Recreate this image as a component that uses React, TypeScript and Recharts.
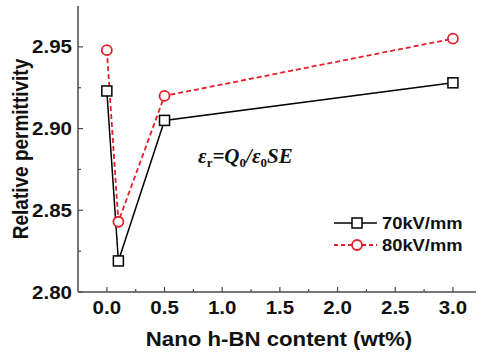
import React from 'react';
import { LineChart, Line, XAxis, YAxis, Legend } from 'recharts';

// nano h-BN content (wt%)
const contents = [0, 0.1, 0.5, 3.0];
// relative permittivity at 70 kV/mm and 80 kV/mm
const perm70 = [2.923, 2.819, 2.905, 2.928];
const perm80 = [2.948, 2.843, 2.920, 2.955];

const xTicks = [0, 0.25, 0.5, 0.75, 1.0, 1.25, 1.5, 1.75, 2.0, 2.25, 2.5, 2.75, 3.0];
const yTicks = [2.8, 2.825, 2.85, 2.875, 2.9, 2.925, 2.95];

const seriesNames = ['70kV/mm', '80kV/mm'];

const RED = '#e3202a';
const AXIS = '#4a4a4a';
const FONT = '"Liberation Sans", Arial, sans-serif';
// the original picture is a bit stretched sideways
const SX = 1.14;

const data = contents.map((x, i) => ({ x, a: perm70[i], b: perm80[i] }));

const isMajor = (v: number, step: number) => Math.abs(v / step - Math.round(v / step)) < 1e-6;

const XTick = (props: any) => {
    const { x, y, payload } = props;
    const major = isMajor(payload.value, 0.5);
    return (
        <g>
            <line x1={x} x2={x} y1={y} y2={y - (major ? 5 : 3)} stroke={AXIS} strokeWidth={1.2} />
            {major && (
                <text transform={`translate(${x},${y + 22}) scale(${SX},1)`} textAnchor="middle" fontFamily={FONT} fontWeight="bold" fontSize={18} fill="#111">
                    {payload.value.toFixed(1)}
                </text>
            )}
        </g>
    );
};

const YTick = (props: any) => {
    const { x, y, payload } = props;
    const major = isMajor(payload.value, 0.05);
    return (
        <g>
            <line x1={x} x2={x + (major ? 5 : 3)} y1={y} y2={y} stroke={AXIS} strokeWidth={1.2} />
            {major && (
                <text transform={`translate(${x - 6},${y + 6.5}) scale(${SX},1)`} textAnchor="end" fontFamily={FONT} fontWeight="bold" fontSize={18} fill="#111">
                    {payload.value.toFixed(2)}
                </text>
            )}
        </g>
    );
};

const SquareDot = (props: any) => {
    const { cx, cy, index } = props;
    return <rect key={'s' + index} x={cx - 5} y={cy - 5} width={10} height={10} fill="#fff" stroke="#000" strokeWidth={1.5} />;
};

const CircleDot = (props: any) => {
    const { cx, cy, index } = props;
    return <circle key={'c' + index} cx={cx} cy={cy} r={5} fill="#fff" stroke={RED} strokeWidth={1.8} />;
};

const LegendBox = () => (
    <svg width={140} height={48}>
        <line x1={4} x2={47} y1={13} y2={13} stroke="#000" strokeWidth={1.5} />
        <rect x={22} y={8} width={10} height={10} fill="#fff" stroke="#000" strokeWidth={1.5} />
        <text transform={`translate(52,19) scale(1.08,1)`} fontFamily={FONT} fontWeight="bold" fontSize={17} fill="#111">{seriesNames[0]}</text>
        <line x1={4} x2={47} y1={35} y2={35} stroke={RED} strokeWidth={1.8} strokeDasharray="4 3" />
        <circle cx={27} cy={35} r={5} fill="#fff" stroke={RED} strokeWidth={1.8} />
        <text transform={`translate(52,41) scale(1.08,1)`} fontFamily={FONT} fontWeight="bold" fontSize={17} fill="#111">{seriesNames[1]}</text>
    </svg>
);

export default function App() {
    return (
        <div style={{ position: 'absolute', left: 0, top: 0, width: 477, height: 354, background: '#fff' }}>
            <LineChart width={477} height={354} data={data} margin={{ top: 6, right: 1, bottom: 0, left: 0 }}>
                <XAxis
                    dataKey="x"
                    type="number"
                    domain={[-0.25, 3.2]}
                    ticks={xTicks}
                    interval={0}
                    allowDataOverflow
                    tickLine={false}
                    tickSize={0}
                    tickMargin={0}
                    tick={<XTick />}
                    axisLine={{ stroke: AXIS, strokeWidth: 1.5 }}
                    height={62}
                    label={(p: any) => {
                        const vb = p.viewBox;
                        return (
                            <text transform={`translate(${vb.x + vb.width / 2 + 2},346) scale(${SX},1)`} textAnchor="middle" fontFamily={FONT} fontWeight="bold" fontSize={19.5} fill="#111">
                                Nano h-BN content (wt%)
                            </text>
                        );
                    }}
                />
                <XAxis xAxisId="top" orientation="top" dataKey="x" type="number" domain={[-0.25, 3.2]} tick={false} tickLine={false} height={0} axisLine={{ stroke: AXIS, strokeWidth: 1.5 }} />
                <YAxis
                    type="number"
                    domain={[2.8, 2.975]}
                    ticks={yTicks}
                    interval={0}
                    allowDataOverflow
                    tickLine={false}
                    tickSize={0}
                    tickMargin={0}
                    tick={<YTick />}
                    axisLine={{ stroke: AXIS, strokeWidth: 1.5 }}
                    width={78}
                    label={(p: any) => {
                        const vb = p.viewBox;
                        const cy = vb.y + vb.height / 2;
                        return (
                            <text transform={`translate(28,${cy}) rotate(-90) scale(1,${SX})`} textAnchor="middle" fontFamily={FONT} fontWeight="bold" fontSize={19} fill="#111">
                                Relative permittivity
                            </text>
                        );
                    }}
                />
                <YAxis yAxisId="right" orientation="right" domain={[2.8, 2.975]} tick={false} tickLine={false} width={0} axisLine={{ stroke: AXIS, strokeWidth: 1.5 }} />
                <Legend
                    layout="vertical"
                    align="center"
                    verticalAlign="middle"
                    content={<LegendBox />}
                    wrapperStyle={{ position: 'absolute', left: 330, top: 210, width: 140, height: 48 }}
                />
                <Line dataKey="a" name={seriesNames[0]} stroke="#000" strokeWidth={1.5} dot={<SquareDot />} activeDot={false} isAnimationActive={false} />
                <Line dataKey="b" name={seriesNames[1]} stroke={RED} strokeWidth={1.8} strokeDasharray="5 3" dot={<CircleDot />} activeDot={false} isAnimationActive={false} />
            </LineChart>
            <div
                style={{
                    position: 'absolute',
                    left: 198,
                    top: 144,
                    fontFamily: '"Liberation Serif", "Times New Roman", serif',
                    fontWeight: 'bold',
                    fontStyle: 'italic',
                    fontSize: 21,
                    lineHeight: '24px',
                    whiteSpace: 'nowrap',
                    color: '#111',
                }}
            >
                ε<sub style={{ fontStyle: 'normal', fontSize: 13, verticalAlign: '-4px' }}>r</sub>=Q
                <sub style={{ fontStyle: 'normal', fontSize: 13, verticalAlign: '-4px' }}>0</sub>/ε
                <sub style={{ fontStyle: 'normal', fontSize: 13, verticalAlign: '-4px' }}>0</sub>SE
            </div>
        </div>
    );
}
